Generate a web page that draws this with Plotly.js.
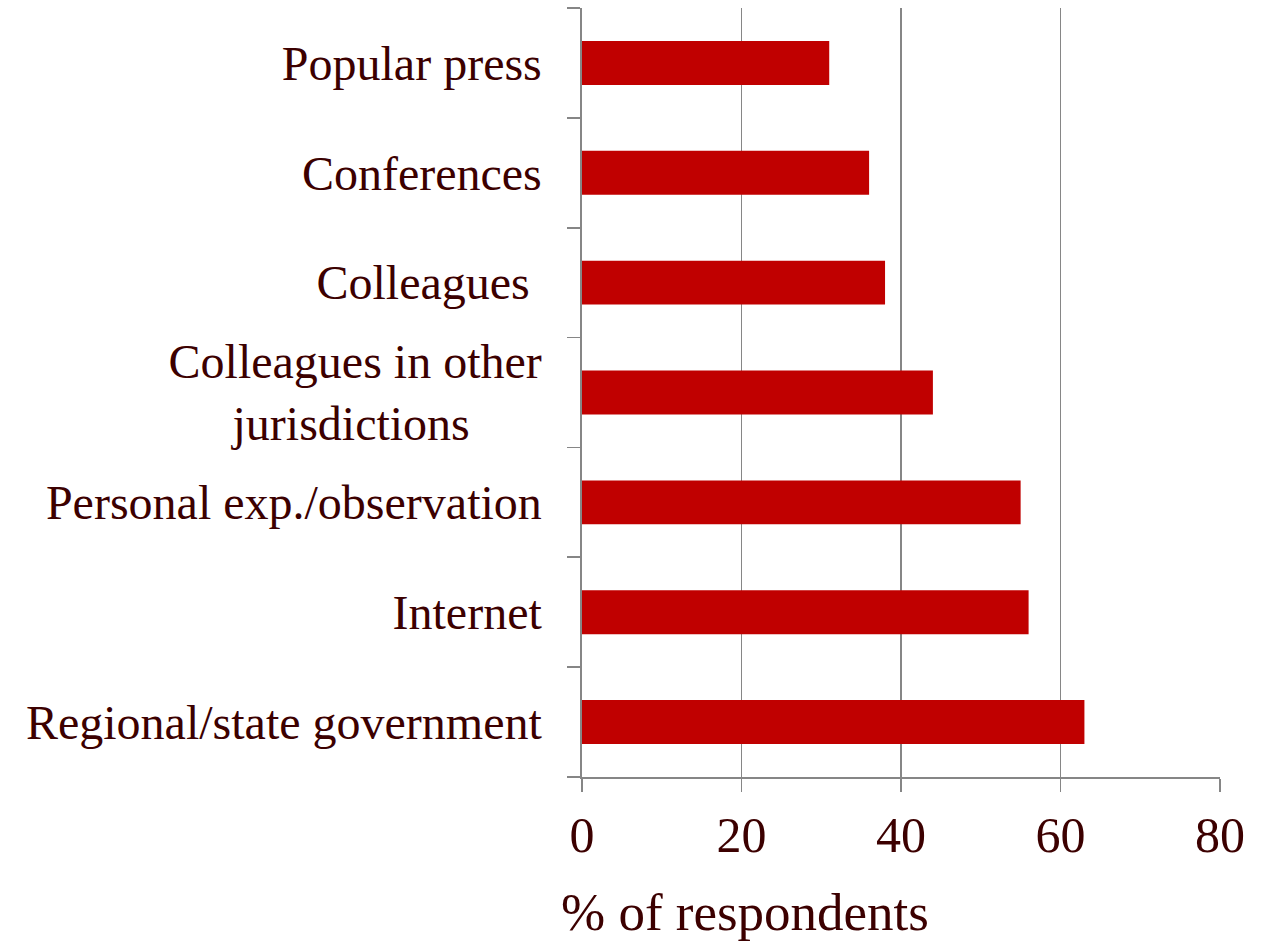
<!DOCTYPE html>
<html>
<head>
<meta charset="utf-8">
<script src="https://cdn.plot.ly/plotly-3.0.1.min.js"></script>
<style>html,body{margin:0;padding:0;background:#fff;}#chart{width:1276px;height:943px;}</style>
</head>
<body>
<div id="chart"></div>
<script>
const categories = ["Regional/state government", "Internet", "Personal exp./observation", "Colleagues in other jurisdictions", "Colleagues", "Conferences", "Popular press"];
const tickLabels = ["Regional/state government", "Internet", "Personal exp./observation", "Colleagues in other<br>jurisdictions\u00a0\u00a0\u00a0\u00a0\u00a0\u00a0", "Colleagues\u00a0", "Conferences", "Popular press"];
const values = [63, 56, 55, 44, 38, 36, 31];
const xTicks = [0, 20, 40, 60, 80];
const xTitle = "% of respondents";

const textColor = "#3c0000";
const lineColor = "#868686";
const font = "Liberation Serif, Times New Roman, serif";

const trace = {
  type: "bar",
  orientation: "h",
  y: categories,
  x: values,
  marker: {color: "#c00000"},
  hoverinfo: "x+y"
};

const layout = {
  width: 1276, height: 943,
  margin: {l: 582, r: 56, t: 8, b: 166},
  paper_bgcolor: "#fff", plot_bgcolor: "#fff",
  showlegend: false,
  bargap: 0.6,
  font: {family: font, color: textColor, size: 48},
  xaxis: {
    range: [0, 80], tickvals: xTicks, ticktext: xTicks.map(String),
    showgrid: true, gridcolor: lineColor, gridwidth: 1.6,
    showline: true, linecolor: lineColor, linewidth: 1.6,
    ticks: "outside", ticklen: 13, tickcolor: lineColor, tickwidth: 1.6,
    tickfont: {family: font, size: 50, color: textColor},
    zeroline: false, mirror: false, fixedrange: true
  },
  yaxis: {
    type: "category", categoryorder: "array", categoryarray: categories,
    tickvals: categories, ticktext: tickLabels,
    showline: true, linecolor: lineColor, linewidth: 1.6,
    ticks: "outside", ticklen: 13, tickcolor: lineColor, tickwidth: 1.6,
    tickson: "boundaries",
    ticklabelstandoff: 29,
    showgrid: false, zeroline: false,
    tickfont: {family: font, size: 48, color: textColor},
    fixedrange: true
  },
  annotations: [{
    text: xTitle, xref: "paper", yref: "paper",
    x: (745 - 582) / (1220 - 582), y: -0.175,
    xanchor: "center", yanchor: "middle", showarrow: false,
    font: {family: font, size: 53, color: textColor}
  }]
};

Plotly.newPlot("chart", [trace], layout, {displayModeBar: false, staticPlot: true});
</script>
</body>
</html>
